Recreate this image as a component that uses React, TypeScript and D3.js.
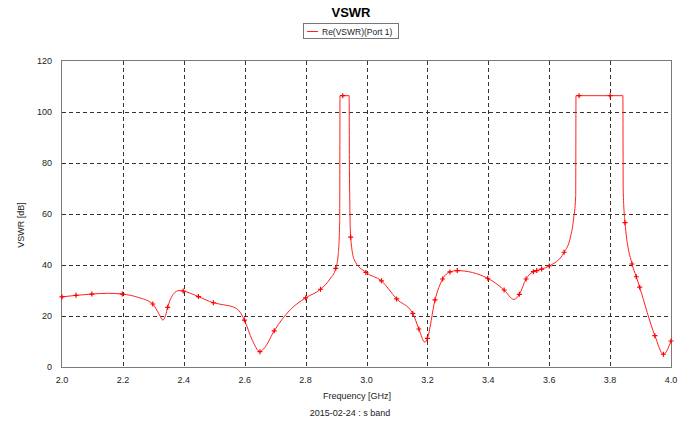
import React, { useEffect, useRef } from 'react';
import * as d3 from 'd3';

// curve samples (GHz, dB)
const freq = [
  2.000, 2.046, 2.098, 2.150, 2.198, 2.250, 2.298, 2.320, 2.331, 2.340, 2.347, 2.365, 2.385, 2.398,
  2.448, 2.497, 2.530, 2.563, 2.585, 2.599, 2.625, 2.650, 2.665, 2.697, 2.750, 2.800, 2.849, 2.880,
  2.899, 2.907, 2.912, 2.913, 2.922, 2.943, 2.944, 2.948, 2.960, 2.998, 3.049, 3.099, 3.152, 3.172,
  3.192, 3.200, 3.225, 3.250, 3.274, 3.298, 3.398, 3.452, 3.484, 3.502, 3.524, 3.548, 3.559, 3.575,
  3.600, 3.649, 3.670, 3.680, 3.687, 3.688, 3.698, 3.800, 3.842, 3.843, 3.849, 3.872, 3.886, 3.897,
  3.947, 3.975, 4.000,
];
const vswr = [
  27.5, 28.1, 28.6, 28.9, 28.6, 27.3, 24.7, 20.5, 18.4, 20.2, 23.4, 28.5, 30.0, 29.8,
  27.6, 25.2, 24.4, 23.5, 21.5, 18.4, 10.5, 6.0, 7.5, 14.2, 22.5, 27.1, 30.5, 34.5,
  38.7, 44.0, 57.0, 106.4, 106.4, 106.4, 77.0, 50.9, 42.0, 37.1, 33.8, 26.7, 21.0, 14.9,
  9.7, 11.2, 26.3, 34.5, 37.3, 37.8, 34.8, 30.2, 26.5, 28.5, 34.5, 37.4, 37.8, 38.4,
  39.6, 45.0, 51.0, 58.0, 67.0, 106.4, 106.4, 106.4, 106.4, 69.4, 56.6, 40.4, 35.4, 31.3,
  12.3, 5.0, 10.2,
];

// solved frequency points (markers)
const markerFreq = [
  2.000, 2.046, 2.098, 2.198, 2.298, 2.347, 2.398, 2.448, 2.497, 2.599, 2.650, 2.697, 2.800, 2.849,
  2.899, 2.922, 2.948, 2.998, 3.049, 3.099, 3.152, 3.172, 3.200, 3.225, 3.250, 3.274, 3.298, 3.398,
  3.452, 3.502, 3.524, 3.548, 3.559, 3.575, 3.600, 3.649, 3.698, 3.800, 3.849, 3.872, 3.886, 3.897,
  3.947, 3.975, 4.000,
];
const markerVal = [
  27.5, 28.1, 28.6, 28.6, 24.7, 23.4, 29.8, 27.6, 25.2, 18.4, 6.0, 14.2, 27.1, 30.5,
  38.7, 106.4, 50.9, 37.1, 33.8, 26.7, 21.0, 14.9, 11.2, 26.3, 34.5, 37.3, 37.8, 34.8,
  30.2, 28.5, 34.5, 37.4, 37.8, 38.4, 39.6, 45.0, 106.4, 106.4, 56.6, 40.4, 35.4, 31.3,
  12.3, 5.0, 10.2,
];

const xTicks = [2.0, 2.2, 2.4, 2.6, 2.8, 3.0, 3.2, 3.4, 3.6, 3.8, 4.0];
const yTicks = [0, 20, 40, 60, 80, 100, 120];

const FONT = '"Liberation Sans", Arial, sans-serif';

function VswrChart() {
  const ref = useRef<SVGSVGElement>(null);

  useEffect(() => {
    if (!ref.current) return;
    const W = 689, H = 421;
    const left = 62, right = 671, top = 61, bottom = 367;

    const svg = d3.select(ref.current);
    svg.selectAll('*').remove();
    svg.attr('width', W).attr('height', H);

    svg.append('rect').attr('width', W).attr('height', H).attr('fill', '#fff');

    const x = d3.scaleLinear().domain([2, 4]).range([left, right]);
    const y = d3.scaleLinear().domain([0, 120]).range([bottom, top]);

    // grid
    const grid = svg.append('g')
      .attr('stroke', '#333')
      .attr('stroke-width', 1)
      .attr('stroke-dasharray', '4,3')
      .attr('shape-rendering', 'crispEdges');
    grid.selectAll('line.v')
      .data(xTicks.slice(1, -1))
      .join('line')
      .attr('x1', d => Math.round(x(d)) + 0.5)
      .attr('x2', d => Math.round(x(d)) + 0.5)
      .attr('y1', top)
      .attr('y2', bottom);
    grid.selectAll('line.h')
      .data(yTicks.slice(1, -1))
      .join('line')
      .attr('x1', left)
      .attr('x2', right)
      .attr('y1', d => Math.round(y(d)) + 0.5)
      .attr('y2', d => Math.round(y(d)) + 0.5);

    // frame
    svg.append('rect')
      .attr('x', left - 0.5)
      .attr('y', top - 0.5)
      .attr('width', right - left + 1)
      .attr('height', bottom - top + 1)
      .attr('fill', 'none')
      .attr('stroke', '#7a7a7a')
      .attr('shape-rendering', 'crispEdges');

    // tick labels
    svg.append('g')
      .selectAll('text')
      .data(yTicks)
      .join('text')
      .attr('x', 52)
      .attr('y', d => y(d) + 3)
      .attr('text-anchor', 'end')
      .text(d => d)
      .attr('font-family', FONT)
      .attr('font-size', 9)
      .attr('fill', '#222');

    svg.append('g')
      .selectAll('text')
      .data(xTicks)
      .join('text')
      .attr('x', d => x(d))
      .attr('y', 383)
      .attr('text-anchor', 'middle')
      .text(d => d.toFixed(1))
      .attr('font-family', FONT)
      .attr('font-size', 9)
      .attr('fill', '#222');

    // curve
    const line = d3.line<number>()
      .x((_, i) => x(freq[i]))
      .y(d => y(d))
      .curve(d3.curveMonotoneX);

    svg.append('path')
      .datum(vswr)
      .attr('d', line)
      .attr('fill', 'none')
      .attr('stroke', '#ff2020')
      .attr('stroke-width', 1);

    // markers
    svg.append('g')
      .selectAll('path')
      .data(markerVal)
      .join('path')
      .attr('transform', (d, i) => `translate(${x(markerFreq[i])},${y(d)})`)
      .attr('d', 'M-2.5,0H2.5M0,-2.5V2.5')
      .attr('stroke', '#ff0000')
      .attr('stroke-width', 1.2);

    // titles
    svg.append('text')
      .attr('x', 351)
      .attr('y', 17)
      .attr('text-anchor', 'middle')
      .attr('font-family', FONT)
      .attr('font-size', 13)
      .attr('font-weight', 'bold')
      .text('VSWR');

    svg.append('text')
      .attr('transform', 'translate(24,225) rotate(-90)')
      .attr('text-anchor', 'middle')
      .attr('font-family', FONT)
      .attr('font-size', 9)
      .attr('fill', '#222')
      .text('VSWR [dB]');

    svg.append('text')
      .attr('x', 357)
      .attr('y', 399)
      .attr('text-anchor', 'middle')
      .attr('font-family', FONT)
      .attr('font-size', 9)
      .attr('fill', '#222')
      .text('Frequency [GHz]');

    svg.append('text')
      .attr('x', 350)
      .attr('y', 416)
      .attr('text-anchor', 'middle')
      .attr('font-family', FONT)
      .attr('font-size', 9)
      .attr('fill', '#222')
      .text('2015-02-24 : s band');

    // legend
    const lg = svg.append('g');
    lg.append('rect')
      .attr('x', 303.5)
      .attr('y', 23.5)
      .attr('width', 95)
      .attr('height', 15)
      .attr('fill', '#fff')
      .attr('stroke', '#777')
      .attr('shape-rendering', 'crispEdges');
    lg.append('line')
      .attr('x1', 307)
      .attr('x2', 318)
      .attr('y1', 31.5)
      .attr('y2', 31.5)
      .attr('stroke', '#ff2020');
    lg.append('text')
      .attr('x', 322)
      .attr('y', 34.5)
      .attr('font-family', FONT)
      .attr('font-size', 8.5)
      .attr('fill', '#222')
      .text('Re(VSWR)(Port 1)');
  }, []);

  return <svg ref={ref} style={{ position: 'absolute', left: 0, top: 0 }} />;
}

export default function App() {
  return <VswrChart />;
}
